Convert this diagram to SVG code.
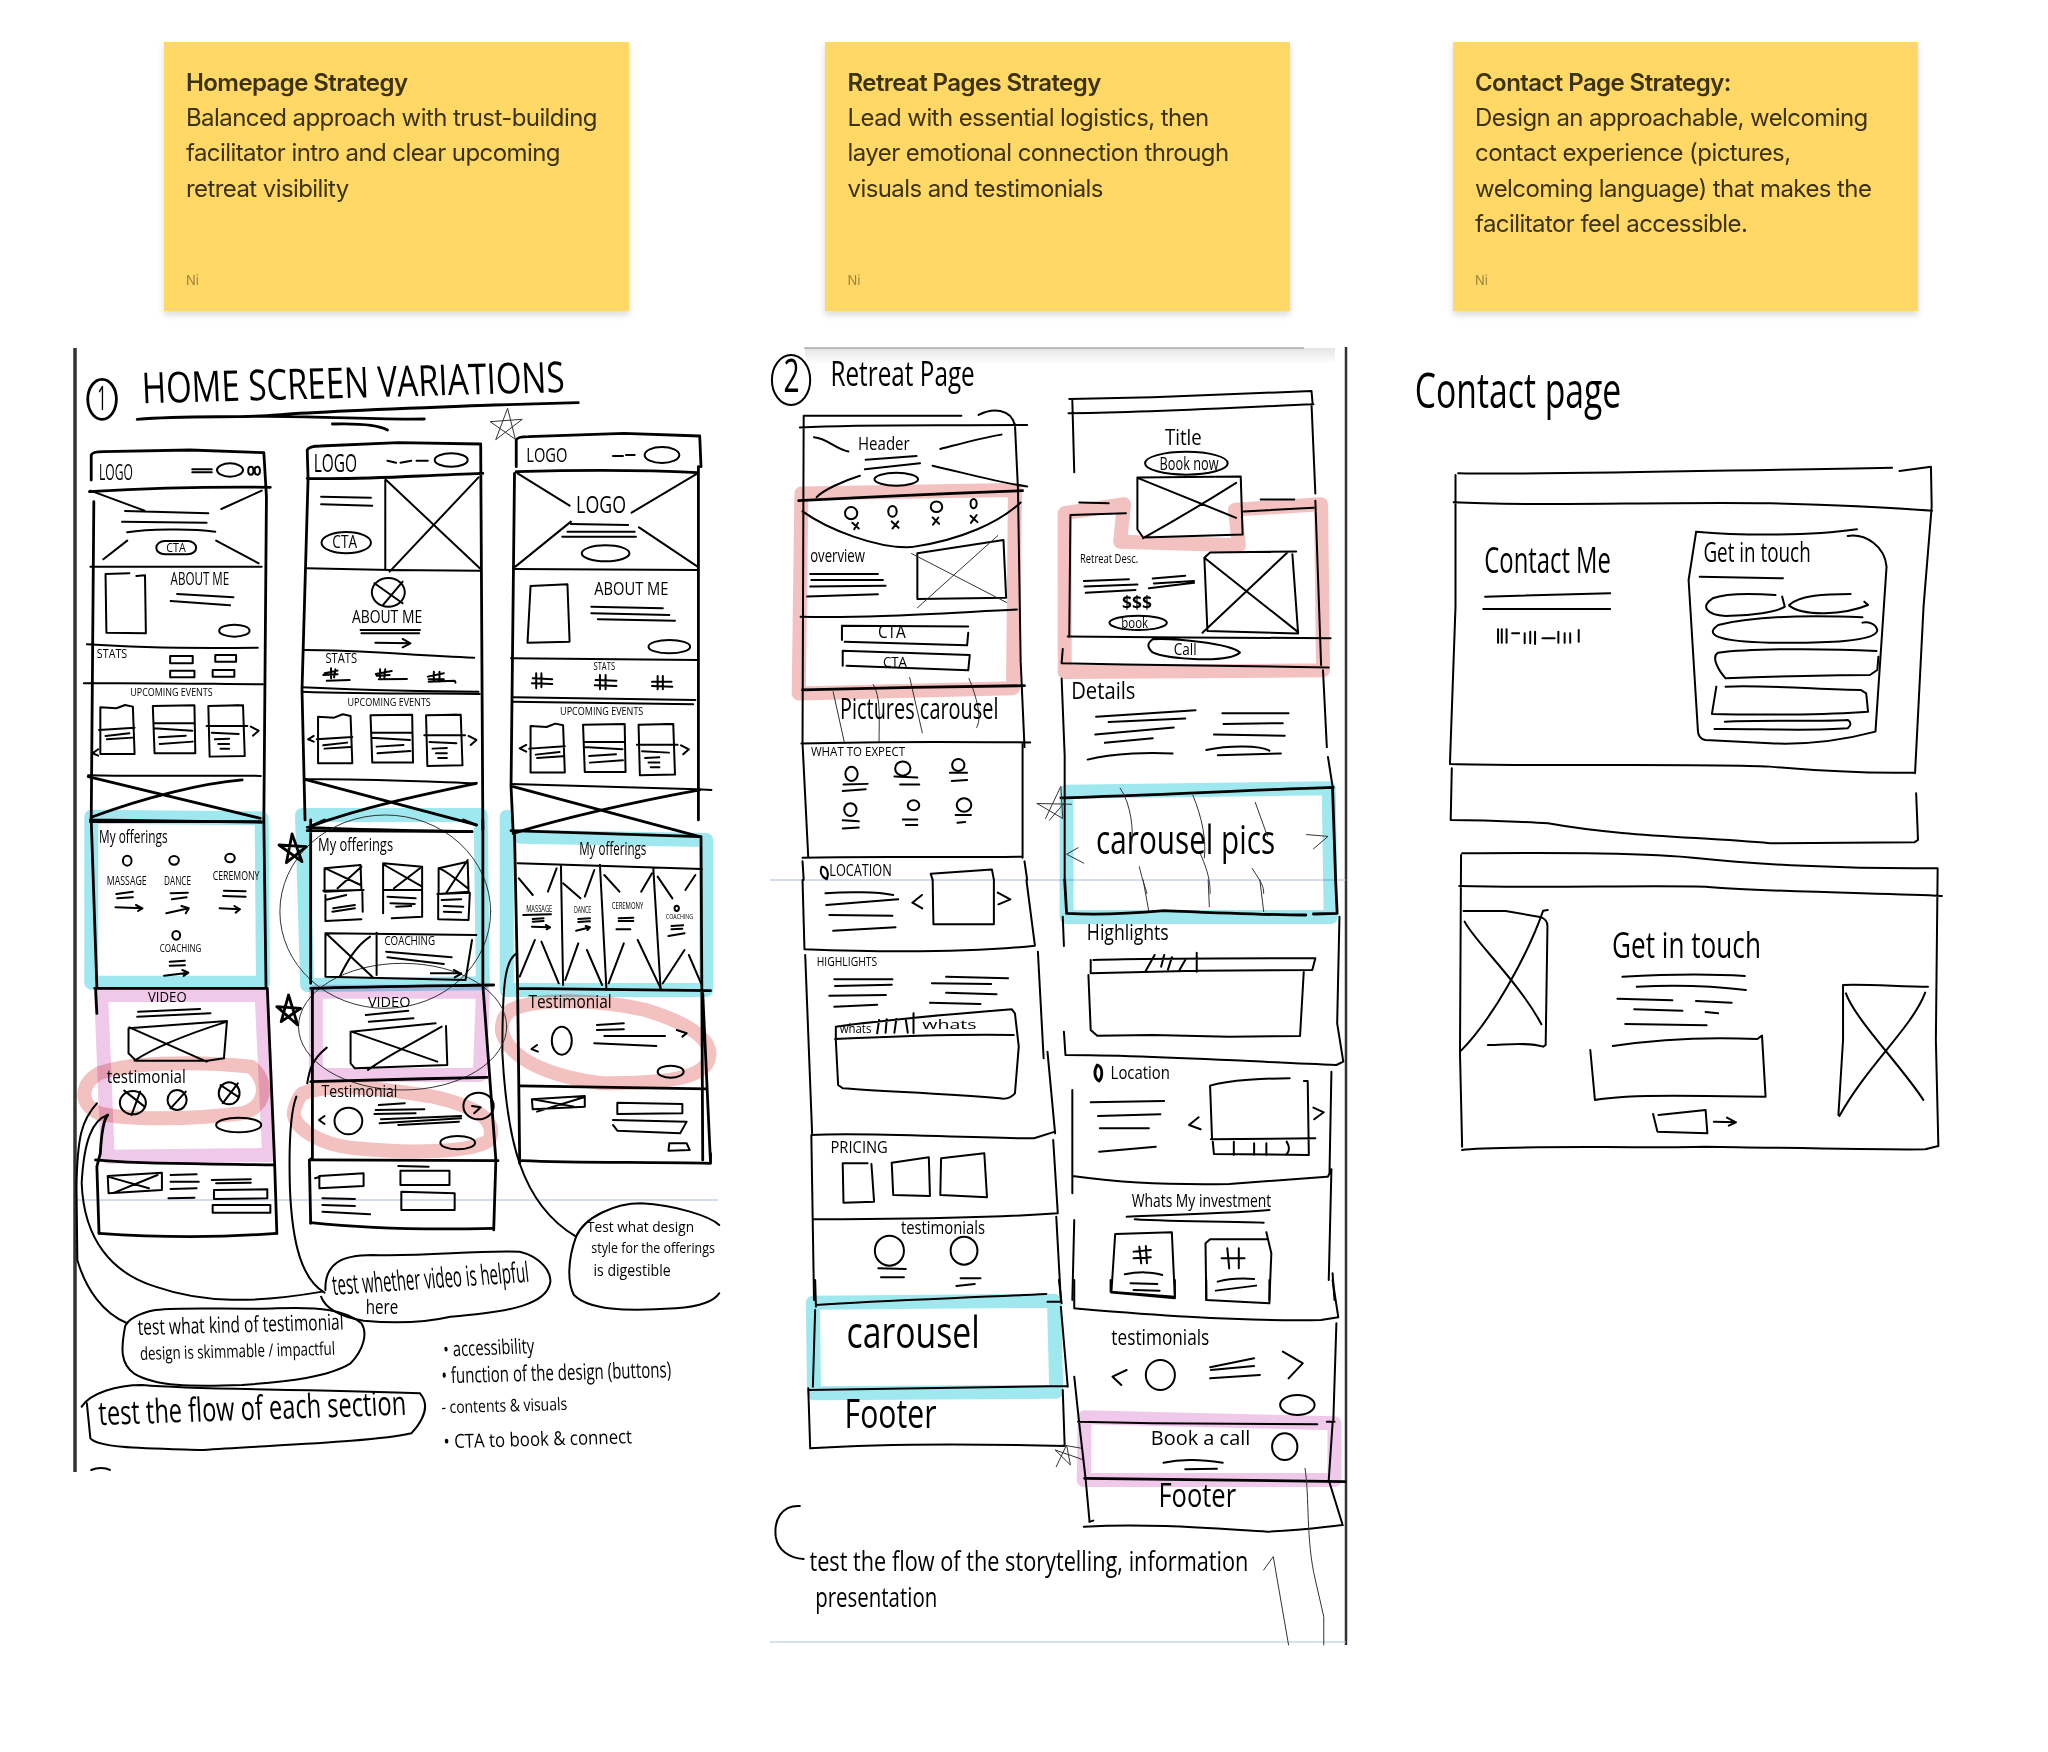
<svg xmlns="http://www.w3.org/2000/svg" xmlns:xlink="http://www.w3.org/1999/xlink" width="2048" height="1752" viewBox="0 0 2048 1752">
<style>
path,ellipse,rect{vector-effect:non-scaling-stroke}
.k{fill:none;stroke:#000;stroke-width:2;stroke-linecap:round;stroke-linejoin:round}
.h{fill:none;stroke:#000;stroke-width:2.8;stroke-linecap:round;stroke-linejoin:round}
.t{fill:none;stroke:#333;stroke-width:1;stroke-linecap:round;stroke-linejoin:round}
.hl{fill:none;stroke-width:14;stroke-linejoin:round;stroke-linecap:round;mix-blend-mode:multiply}
.c{stroke:#9fe8f0}.p{stroke:#f0c9ea}.s{stroke:#f3c1c0}
.note{fill:#ffd866;filter:url(#sh)}
.nt{font-family:Inter,"Liberation Sans",sans-serif;font-size:24px;letter-spacing:-.58px;fill:#3b3210}
.nb{font-weight:600}
.ni{font-size:13px;letter-spacing:0;fill:#3b3210;opacity:.5}
.w{font-family:"Open Sans","Noto Sans",sans-serif;fill:#000}
</style>
<defs>
<filter id="sh" x="-5%" y="-5%" width="110%" height="115%"><feDropShadow dx="0" dy="4" stdDeviation="3" flood-color="#000" flood-opacity=".14"/></filter>
<linearGradient id="fade" x1="0" y1="0" x2="0" y2="1"><stop offset="0" stop-color="#e4e4e4"/><stop offset="1" stop-color="#fff"/></linearGradient>
<g id="ev">
<path class="k" d="M93,1102L93,1242L172,1242L168,1100L150,1095L130,1105ZM90,1170L172,1163M105,1188L160,1180M108,1198L168,1193"/>
<path class="k" d="M214,1098L310,1096L312,1240L218,1240ZM216,1150L310,1150M216,1165L305,1172M228,1192L290,1187M230,1212L306,1205"/>
<path class="k" d="M342,1098L412,1096M422,1096L426,1248L345,1250L342,1098ZM338,1158L432,1158M350,1178L412,1182M357,1198L390,1196M365,1212L390,1212M370,1226L390,1226M440,1160L458,1172L445,1187"/>
</g>
</defs>
<rect width="2048" height="1752" fill="#fff"/>

<g id="card-homepage">
<rect class="note" x="164" y="42" width="465" height="269"/>
<text class="nt nb" x="186" y="91">Homepage Strategy</text>
<text class="nt" x="186" y="126">Balanced approach with trust-building</text>
<text class="nt" x="186" y="161">facilitator intro and clear upcoming</text>
<text class="nt" x="186" y="197">retreat visibility</text>
<text class="nt ni" x="186" y="285">Ni</text>
</g>
<g id="card-retreat">
<rect class="note" x="825" y="42" width="465" height="269"/>
<text class="nt nb" x="847.5" y="91">Retreat Pages Strategy</text>
<text class="nt" x="847.5" y="126">Lead with essential logistics, then</text>
<text class="nt" x="847.5" y="161">layer emotional connection through</text>
<text class="nt" x="847.5" y="197">visuals and testimonials</text>
<text class="nt ni" x="847.5" y="285">Ni</text>
</g>
<g id="card-contact">
<rect class="note" x="1453" y="42" width="465" height="269"/>
<text class="nt nb" x="1475" y="91">Contact Page Strategy:</text>
<text class="nt" x="1475" y="126">Design an approachable, welcoming</text>
<text class="nt" x="1475" y="161">contact experience (pictures,</text>
<text class="nt" x="1475" y="197">welcoming language) that makes the</text>
<text class="nt" x="1475" y="232">facilitator feel accessible.</text>
<text class="nt ni" x="1475" y="285">Ni</text>
</g>

<g id="frame-lines">
<path d="M75,348V1472" stroke="#333" stroke-width="3.5" fill="none"/>
<path d="M1346,347V1645" stroke="#333" stroke-width="2.5" fill="none"/>
<rect x="805" y="348" width="530" height="16" fill="url(#fade)"/>
<path d="M804,348H1304" stroke="#888" stroke-width="1.2" fill="none"/>
<path d="M77,1200H718M770,880H1346" stroke="#a9bdd8" stroke-width="1.2" fill="none"/>
<path d="M770,1642H1346" stroke="#b7c4d6" stroke-width="1.2" fill="none"/>
</g>

<g id="home-upper" transform="translate(60,340) scale(.4337,.3333)">
<ellipse class="h" cx="97" cy="178" rx="33" ry="60"/>
<text class="w" x="86" y="210" font-size="96" textLength="22" lengthAdjust="spacingAndGlyphs">1</text>
<text class="w" x="190" y="190" font-size="128" textLength="975" lengthAdjust="spacingAndGlyphs" transform="rotate(-2 190 190)">HOME SCREEN VARIATIONS</text>
<path class="h" d="M178,238C300,225 420,235 500,225S800,205 1000,195L1195,188M425,230C550,225 700,240 840,237M628,252C680,250 730,252 755,270"/>
<path class="t" d="M1005,298L1032,205L1050,298L992,245L1065,238Z"/>

<path class="h" d="M72,420L72,345Q75,335 100,335L300,330L470,338L476,470L470,1440M78,485L72,1440M68,455C200,445 350,440 485,442"/>
<text class="w" x="90" y="420" font-size="66" textLength="78" lengthAdjust="spacingAndGlyphs">LOGO</text>
<path class="k" d="M305,388L350,388M305,397L350,397"/>
<ellipse class="k" cx="392" cy="390" rx="30" ry="20"/><ellipse class="k" cx="440" cy="392" rx="6" ry="12"/><ellipse class="k" cx="455" cy="392" rx="6" ry="12"/>
<path class="k" d="M70,452L195,512M465,452L372,507M155,602L100,658M360,602L458,670M150,513L342,520M143,545L338,548M155,577C200,568 300,565 358,575"/>
<rect class="k" x="222" y="603" width="92" height="40" rx="20"/>
<text class="w" x="245" y="635" font-size="38" textLength="45" lengthAdjust="spacingAndGlyphs">CTA</text>
<path class="k" d="M70,680L465,680M160,700L105,702L107,878L198,880L196,706L176,708M270,762L400,772M255,783L392,796"/>
<text class="w" x="255" y="735" font-size="54" textLength="135" lengthAdjust="spacingAndGlyphs">ABOUT ME</text>
<ellipse class="k" cx="402" cy="872" rx="35" ry="18"/>
<path class="k" d="M62,913C200,925 350,925 456,923M55,1030C200,1028 350,1032 468,1033"/>
<text class="w" x="85" y="955" font-size="38" textLength="70" lengthAdjust="spacingAndGlyphs">STATS</text>
<path class="k" d="M254,948H306V970H254ZM358,945H406V965H358ZM254,992H310V1012H254ZM352,990H402V1010H352Z"/>
<text class="w" x="162" y="1068" font-size="34" textLength="190" lengthAdjust="spacingAndGlyphs">UPCOMING EVENTS</text>
<use xlink:href="#ev" href="#ev"/>
<path class="k" d="M88,1228L75,1240L88,1247M65,1306C200,1310 350,1305 463,1308"/>
<path class="h" d="M65,1310L462,1435M72,1432C200,1370 330,1330 420,1320M70,1440L465,1447"/>

<path class="h" d="M572,415L570,330Q575,318 600,318L780,308L970,312L975,1470M572,415L558,1050L565,1440M570,415C700,420 800,408 975,400"/>
<text class="w" x="585" y="395" font-size="76" textLength="100" lengthAdjust="spacingAndGlyphs">LOGO</text>
<path class="k" d="M755,362L775,368M785,368L810,362M822,362L848,362"/>
<ellipse class="k" cx="902" cy="360" rx="38" ry="20"/>
<path class="k" d="M750,420L750,690M752,420L968,685M965,412L760,695M602,470L717,473M602,493L720,497M568,685L760,690L970,692"/>
<ellipse class="k" cx="660" cy="608" rx="57" ry="32"/>
<text class="w" x="628" y="625" font-size="52" textLength="57" lengthAdjust="spacingAndGlyphs">CTA</text>
<ellipse class="k" cx="757" cy="757" rx="38" ry="43"/>
<path class="k" d="M725,730L790,790M790,725L745,795"/>
<text class="w" x="673" y="850" font-size="56" textLength="162" lengthAdjust="spacingAndGlyphs">ABOUT ME</text>
<path class="k" d="M693,870L830,870M695,880L828,880M727,908L808,910M790,897L808,910L790,922M560,930C700,930 800,945 955,953"/>
<text class="w" x="612" y="970" font-size="44" textLength="73" lengthAdjust="spacingAndGlyphs">STATS</text>
<path class="k" d="M610,1000L640,992M607,1005L640,1003M625,985L625,1015M635,988L632,1012M615,1022L668,1020M728,1002L765,993M730,1007L760,1005M738,988L738,1012M750,988L748,1012M735,1018L800,1017M848,1010L885,1000M850,1018L885,1018M862,995L862,1025M875,995L875,1025M850,1025L910,1022L912,1028"/>
<path class="k" d="M558,1042C700,1050 850,1055 965,1055M558,1055C700,1062 850,1060 968,1062"/>
<text class="w" x="663" y="1097" font-size="34" textLength="192" lengthAdjust="spacingAndGlyphs">UPCOMING EVENTS</text>
<use xlink:href="#ev" href="#ev" transform="translate(502,28)"/>
<path class="k" d="M585,1188L572,1198L585,1205M565,1318C700,1315 850,1325 960,1330"/>
<path class="h" d="M565,1318L960,1455M580,1458C700,1400 850,1360 960,1330M570,1462C700,1470 850,1472 950,1475"/>

<path class="h" d="M1052,380L1052,300Q1055,290 1080,290L1300,280L1475,288L1478,380M1048,400L1040,1340L1045,1480M1472,380L1472,1440M1052,395C1200,390 1350,390 1470,398"/>
<text class="w" x="1075" y="365" font-size="60" textLength="95" lengthAdjust="spacingAndGlyphs">LOGO</text>
<path class="k" d="M1275,348L1298,348M1305,345L1325,345"/>
<ellipse class="k" cx="1388" cy="345" rx="40" ry="24"/>
<text class="w" x="1190" y="518" font-size="70" textLength="115" lengthAdjust="spacingAndGlyphs">LOGO</text>
<path class="k" d="M1055,400L1175,497M1470,400L1318,518M1178,545L1050,680M1335,562L1470,680M1178,552L1310,555M1170,575L1325,575M1158,590L1328,590"/>
<ellipse class="k" cx="1258" cy="640" rx="55" ry="24"/>
<path class="k" d="M1045,687L1472,690M1085,738L1170,733L1175,905L1078,908ZM1225,800L1390,805M1225,820L1405,825M1240,838L1418,842M1040,955L1470,960"/>
<text class="w" x="1232" y="765" font-size="56" textLength="171" lengthAdjust="spacingAndGlyphs">ABOUT ME</text>
<ellipse class="k" cx="1405" cy="920" rx="48" ry="20"/>
<text class="w" x="1230" y="990" font-size="30" textLength="50" lengthAdjust="spacingAndGlyphs">STATS</text>
<path class="k" d="M1098,1000L1098,1045M1110,1000L1110,1042M1090,1015L1135,1018M1088,1030L1135,1032M1245,1005L1245,1048M1258,1005L1258,1048M1235,1020L1283,1022M1233,1036L1283,1038M1378,1008L1378,1048M1390,1008L1390,1048M1365,1025L1410,1025M1365,1038L1412,1040M1045,1072L1465,1080M1045,1085L1460,1093"/>
<text class="w" x="1153" y="1125" font-size="34" textLength="192" lengthAdjust="spacingAndGlyphs">UPCOMING EVENTS</text>
<use xlink:href="#ev" href="#ev" transform="translate(992,56)"/>
<path class="k" d="M1075,1215L1060,1225L1075,1235M1040,1332L1470,1348L1502,1350"/>
<path class="h" d="M1045,1340L1475,1490M1045,1480C1200,1420 1350,1380 1475,1350"/>
</g>

<g id="home-lower" transform="translate(60,820) scale(.4337,.3333)">
<path class="hl c" d="M72,-10L72,488L468,488L465,-5ZM558,-15L570,495L975,490L970,-15ZM1030,-10L1030,510L1490,510L1490,60L1060,50"/>
<path class="hl p" d="M95,525L465,525L482,1005L110,1010ZM590,515L975,515L968,765L590,765Z"/>
<path class="hl s" d="M90,760C150,730 300,720 440,740C480,780 480,860 420,880C300,900 150,900 90,880C40,850 50,790 90,760Z"/>
<path class="hl s" d="M560,820C620,790 720,800 860,830C960,860 1010,900 990,960C950,1000 800,1000 680,985C600,975 530,920 540,870C545,850 550,830 560,820Z"/>
<path class="hl s" d="M1040,570C1100,530 1250,540 1350,570C1450,610 1510,660 1495,720C1480,780 1380,790 1250,790C1130,770 1040,720 1020,640C1015,610 1025,585 1040,570Z"/>

<g id="connectors">
<path class="k" d="M110,885C75,900 55,960 50,1090C55,1260 120,1360 220,1400C330,1450 450,1450 605,1415"/>
<path class="k" d="M85,850C50,900 40,950 38,1100L40,1320C60,1410 100,1480 155,1510"/>
<path class="k" d="M615,683C580,720 575,750 570,790M545,830C530,880 528,1000 530,1100C535,1280 560,1380 610,1418"/>
<path class="k" d="M1053,400C1025,420 1020,500 1020,700C1030,950 1060,1150 1190,1250"/>
</g>

<ellipse class="t" cx="750" cy="275" rx="243" ry="290"/>
<ellipse class="t" cx="790" cy="620" rx="240" ry="190"/>
<path class="h" d="M535,42L558,125L505,75L568,80L522,128Z"/>
<path class="h" d="M527,525L548,615L500,560L555,565L510,605Z"/>

<path class="h" d="M72,0L85,500M470,0L475,500M70,5L463,5M80,505L478,505M82,505L85,580M110,885C100,900 95,950 93,1000L85,1040L90,1240M478,505L495,1035L500,1240"/>
<text class="w" x="90" y="70" font-size="56" textLength="158" lengthAdjust="spacingAndGlyphs">My offerings</text>
<ellipse class="k" cx="155" cy="122" rx="10" ry="15"/><ellipse class="k" cx="263" cy="121" rx="11" ry="13"/><ellipse class="k" cx="392" cy="114" rx="11" ry="13"/>
<text class="w" x="108" y="195" font-size="38" textLength="92" lengthAdjust="spacingAndGlyphs">MASSAGE</text>
<text class="w" x="240" y="195" font-size="38" textLength="62" lengthAdjust="spacingAndGlyphs">DANCE</text>
<text class="w" x="352" y="180" font-size="38" textLength="108" lengthAdjust="spacingAndGlyphs">CEREMONY</text>
<path class="k" d="M130,222L168,215M132,235L168,232M128,262L190,265M175,255L190,265L180,273M255,220L295,218M258,238L292,232M245,280L297,265M280,258L297,265L290,280M378,212L428,214M376,228L428,230M368,265L415,268M402,258L415,268L405,278"/>
<ellipse class="k" cx="268" cy="346" rx="9" ry="13"/>
<text class="w" x="230" y="395" font-size="34" textLength="96" lengthAdjust="spacingAndGlyphs">COACHING</text>
<path class="k" d="M253,425L288,422M253,437L288,436M240,467L296,458M282,450L296,458L285,468"/>
<text class="w" x="203" y="545" font-size="42" textLength="89" lengthAdjust="spacingAndGlyphs">VIDEO</text>
<path class="k" d="M180,575L323,567M178,590L347,580M158,625L385,603L378,715L340,722L175,722L158,700ZM160,622L338,725M385,605C300,640 220,680 172,722"/>
<text class="w" x="108" y="790" font-size="56" textLength="182" lengthAdjust="spacingAndGlyphs">testimonial</text>
<ellipse class="k" cx="168" cy="848" rx="30" ry="35"/><ellipse class="k" cx="270" cy="840" rx="22" ry="30"/><ellipse class="k" cx="390" cy="820" rx="24" ry="33"/>
<path class="k" d="M148,812L195,860M185,815L165,885M290,815L255,865M410,790L375,850M370,795L410,830"/>
<ellipse class="k" cx="412" cy="915" rx="52" ry="22"/>
<path class="h" d="M82,1020C200,1035 350,1030 495,1035M90,1240C200,1250 350,1255 500,1240"/>
<path class="k" d="M110,1068L235,1058L235,1110L112,1120ZM110,1070L205,1105M225,1065L125,1118M255,1065L315,1063M255,1085L320,1085M255,1107L315,1105M250,1135L310,1133M350,1080L440,1078M360,1090L440,1088M355,1110L478,1108L478,1135L355,1137ZM352,1155L485,1155L485,1178L352,1178Z"/>

<path class="h" d="M578,0L578,490M975,0L975,495M570,32L950,35M575,20L610,0M930,0L960,15M578,505C700,500 850,498 1000,495M582,505L582,1015L575,1020L578,1210M975,495L1005,1020L1000,1230"/>
<text class="w" x="595" y="92" font-size="56" textLength="173" lengthAdjust="spacingAndGlyphs">My offerings</text>
<path class="k" d="M610,145L693,135L695,210L610,215ZM612,145L693,195M695,140L640,205M607,212L700,210M697,210L698,275M612,225L612,303L695,298M612,240L660,225M630,265L680,255M628,275L680,265"/>
<path class="k" d="M745,130L835,140L835,210L745,210ZM748,135L835,200M830,145L770,205M745,212L745,280M835,212L835,290L765,295M755,230L820,235M762,250L818,252M775,260L810,258"/>
<path class="k" d="M873,145L940,125L942,215L873,222ZM875,145C900,160 925,190 940,205M940,120L890,220M870,222L945,218M872,222L872,298L942,300L945,218M880,240L925,238M885,258L930,260M885,275L925,277"/>
<path class="k" d="M612,340L960,345M612,340L612,470L935,480L950,360M730,338L730,465M615,342L720,470M715,350C680,380 660,430 645,470M752,395L903,412M755,412L885,432M855,460L925,460M908,450L925,462L910,472"/>
<text class="w" x="748" y="375" font-size="40" textLength="117" lengthAdjust="spacingAndGlyphs">COACHING</text>
<text class="w" x="710" y="560" font-size="46" textLength="98" lengthAdjust="spacingAndGlyphs">VIDEO</text>
<path class="k" d="M705,585L803,572M712,605L815,595M670,635L866,610M890,618L893,735L680,745L670,730L670,635M672,635L870,725M880,620C800,680 750,710 710,750"/>
<path class="h" d="M578,785C700,782 850,775 985,772"/>
<text class="w" x="603" y="830" font-size="50" textLength="175" lengthAdjust="spacingAndGlyphs">Testimonial</text>
<ellipse class="k" cx="665" cy="903" rx="32" ry="40"/>
<path class="k" d="M610,888L597,900L610,912M735,855L795,850M728,870L840,868M725,882L820,880M740,898L925,888M737,910L925,895M780,915L920,905"/>
<ellipse class="k" cx="965" cy="858" rx="35" ry="40"/>
<path class="k" d="M950,858L970,862L955,880"/>
<ellipse class="k" cx="917" cy="968" rx="40" ry="20"/>
<path class="h" d="M578,1020L1010,1022M578,1208C700,1225 850,1230 1000,1225"/>
<path class="k" d="M598,1068L700,1060L700,1098L598,1105ZM588,1075L600,1070M785,1052L898,1052L898,1095L785,1095ZM780,1038L850,1040M787,1115L910,1120L910,1170L787,1170ZM605,1135L680,1137M605,1155L680,1158M605,1175L715,1183"/>

<path class="h" d="M1048,40L1055,490L1060,1030M1478,50L1482,1020M1040,32L1475,50M1055,505L1500,512M1482,520L1500,1030L1500,1000M1065,1022C1200,1030 1350,1025 1500,1030"/>
<text class="w" x="1197" y="105" font-size="56" textLength="155" lengthAdjust="spacingAndGlyphs">My offerings</text>
<path class="k" d="M1055,130L1480,147M1155,135L1160,495M1245,135L1260,510M1368,145L1385,510"/>
<path class="k" d="M1058,175L1090,225M1145,145L1125,215M1060,470L1095,360M1110,365L1150,490M1160,190L1200,235M1232,150L1210,230M1165,480L1195,370M1215,390L1250,495M1255,165L1290,215M1365,160L1340,215M1265,490L1300,370M1332,360L1385,505M1378,170L1412,235M1465,165L1442,210M1390,490L1440,390M1450,405L1478,490"/>
<text class="w" x="1075" y="277" font-size="26" textLength="60" lengthAdjust="spacingAndGlyphs">MASSAGE</text>
<text class="w" x="1185" y="278" font-size="26" textLength="40" lengthAdjust="spacingAndGlyphs">DANCE</text>
<text class="w" x="1272" y="267" font-size="26" textLength="73" lengthAdjust="spacingAndGlyphs">CEREMONY</text>
<text class="w" x="1397" y="298" font-size="24" textLength="63" lengthAdjust="spacingAndGlyphs">COACHING</text>
<path class="k" d="M1068,285L1132,283M1090,297L1115,295M1090,305L1115,303M1088,320L1130,322M1120,315L1130,322L1122,328M1195,297L1222,295M1195,306L1222,304M1190,332L1222,322M1212,318L1222,322L1216,330M1288,295L1322,293M1288,303L1322,303M1283,328L1315,328M1410,318L1437,316M1410,328L1435,326M1403,348L1440,340"/>
<ellipse class="k" cx="1422" cy="265" rx="5" ry="8"/>
<text class="w" x="1080" y="565" font-size="56" textLength="192" lengthAdjust="spacingAndGlyphs">Testimonial</text>
<ellipse class="k" cx="1157" cy="662" rx="23" ry="42"/>
<path class="k" d="M1100,675L1087,687L1102,695M1238,615L1300,610M1238,630L1300,628M1255,648L1395,648M1232,670L1375,678M1422,630L1445,640L1435,650"/>
<ellipse class="k" cx="1408" cy="755" rx="30" ry="18"/>
<path class="h" d="M1060,798L1490,807"/>
<path class="k" d="M1088,838L1210,828L1210,860L1090,868ZM1090,838L1185,860M1208,832L1100,875M1285,848L1435,852L1435,880L1285,882ZM1275,900L1445,905L1430,940L1285,932L1275,915M1405,970L1445,970L1452,990L1403,992Z"/>
</g>

<g id="home-notes" transform="translate(60,1200) scale(.4337,.3333)">
<g id="note-video">
<path class="k" d="M612,270C610,190 650,165 720,165C850,170 950,150 1060,155C1110,170 1135,220 1130,250C1120,310 1050,335 900,350C850,365 780,372 700,362C640,350 610,320 602,290"/>
<text class="w" x="630" y="285" font-size="84" textLength="455" lengthAdjust="spacingAndGlyphs" transform="rotate(-5 630 285)">test whether video is helpful</text>
<text class="w" x="705" y="343" font-size="60" textLength="75" lengthAdjust="spacingAndGlyphs">here</text>
</g>
<g id="note-design">
<path class="k" d="M1190,110C1170,180 1170,250 1185,285C1220,330 1300,335 1420,325C1480,320 1510,300 1520,280M1190,110C1210,50 1280,10 1340,10C1420,15 1500,50 1520,75"/>
<text class="w" x="1215" y="96" font-size="46" textLength="247" lengthAdjust="spacingAndGlyphs">Test what design</text>
<text class="w" x="1225" y="160" font-size="46" textLength="285" lengthAdjust="spacingAndGlyphs">style for the offerings</text>
<text class="w" x="1230" y="228" font-size="50" textLength="178" lengthAdjust="spacingAndGlyphs">is digestible</text>
</g>
<g id="note-testimonial">
<path class="k" d="M150,380C140,450 140,490 170,520C220,560 300,560 420,555C530,545 620,530 670,490C700,450 710,400 695,370C660,330 600,320 500,325C400,330 300,320 220,330C180,340 155,360 150,380Z"/>
<text class="w" x="180" y="405" font-size="66" textLength="475" lengthAdjust="spacingAndGlyphs" transform="rotate(-2 180 405)">test what kind of testimonial</text>
<text class="w" x="185" y="480" font-size="54" textLength="450" lengthAdjust="spacingAndGlyphs" transform="rotate(-2 185 480)">design is skimmable / impactful</text>
</g>
<g id="note-flow">
<path class="k" d="M50,620C70,580 130,555 190,555C320,570 500,565 830,580C850,610 845,650 810,700C730,725 500,735 330,750C200,745 90,745 70,715L62,610"/>
<text class="w" x="90" y="675" font-size="100" textLength="710" lengthAdjust="spacingAndGlyphs" transform="rotate(-2.5 90 675)">test the flow of each section</text>
</g>
<g id="test-list">
<text class="w" x="885" y="470" font-size="62" textLength="210" lengthAdjust="spacingAndGlyphs" transform="rotate(-3 885 470)">• accessibility</text>
<text class="w" x="880" y="550" font-size="66" textLength="530" lengthAdjust="spacingAndGlyphs" transform="rotate(-2 880 550)">• function of the design (buttons)</text>
<text class="w" x="880" y="640" font-size="52" textLength="290" lengthAdjust="spacingAndGlyphs" transform="rotate(-2 880 640)">- contents &amp; visuals</text>
<text class="w" x="885" y="745" font-size="58" textLength="435" lengthAdjust="spacingAndGlyphs" transform="rotate(-2 885 745)">• CTA to book &amp; connect</text>
</g>
<path class="k" d="M72,810C85,802 105,802 115,810"/>
</g>

<g id="retreat-upper" transform="translate(770,340) scale(.3827,.3571)">
<path class="hl s" d="M82,430L640,420L635,975L75,990Z"/>
<path class="hl s" d="M925,460L770,485L770,930L1445,925L1440,460L1215,475L1225,575L915,565Z"/>
<path class="hl c" d="M775,1265L1460,1255L1465,1616L775,1616Z"/>
<ellipse class="k" cx="55" cy="112" rx="50" ry="70"/>
<text class="w" x="35" y="145" font-size="130" textLength="42" lengthAdjust="spacingAndGlyphs">2</text>
<text class="w" x="158" y="130" font-size="96" textLength="377" lengthAdjust="spacingAndGlyphs">Retreat Page</text>

<path class="k" d="M88,212L500,212M545,210C580,190 630,190 640,240M88,212L85,1130M640,235L648,420L655,900L665,1140M78,245C250,235 450,240 672,238M115,272C150,275 170,305 205,312M445,305C500,290 550,275 605,265M250,335L383,325M248,362L392,345M425,352C500,370 600,400 672,410M235,380C190,395 140,420 122,440"/>
<text class="w" x="230" y="308" font-size="50" textLength="135" lengthAdjust="spacingAndGlyphs">Header</text>
<ellipse class="k" cx="330" cy="390" rx="57" ry="18"/>
<path class="h" d="M75,450C250,440 450,430 660,422"/>
<path class="k" d="M85,480C150,530 280,585 370,580C500,560 600,510 655,455"/>
<ellipse class="k" cx="212" cy="485" rx="16" ry="17"/><ellipse class="k" cx="320" cy="480" rx="11" ry="15"/><ellipse class="k" cx="435" cy="467" rx="15" ry="15"/><ellipse class="k" cx="532" cy="458" rx="8" ry="13"/>
<path class="k" d="M215,512L232,528M230,512L220,530M318,508L336,526M335,508L320,528M425,497L442,515M440,497L426,517M524,492L542,510M540,490L525,512"/>
<text class="w" x="105" y="622" font-size="50" textLength="143" lengthAdjust="spacingAndGlyphs">overview</text>
<path class="k" d="M105,655L282,655M108,672L295,672M105,690L302,688M97,718L282,712M385,597L610,560L617,722L385,725Z"/>
<path class="t" d="M370,598L618,735M595,548L385,750M165,985L195,1130M270,965C290,1000 285,1060 285,1125M365,945L398,1100M520,948C540,1000 555,1060 540,1085"/>
<path class="k" d="M80,775C250,780 450,765 645,755M188,840L188,800L518,802M518,820L515,855L195,845M190,912L190,870L522,882L518,925L200,912"/>
<text class="w" x="282" y="835" font-size="50" textLength="73" lengthAdjust="spacingAndGlyphs">CTA</text>
<text class="w" x="295" y="915" font-size="42" textLength="63" lengthAdjust="spacingAndGlyphs">CTA</text>
<path class="h" d="M85,980C250,975 500,970 665,968"/>
<text class="w" x="183" y="1060" font-size="80" textLength="414" lengthAdjust="spacingAndGlyphs">Pictures carousel</text>
<path class="k" d="M82,1130C250,1125 500,1125 680,1127M85,1130L100,1450M660,1130L660,1450M665,1460L672,1512M85,1450C250,1445 450,1450 660,1447"/>
<text class="w" x="107" y="1165" font-size="36" textLength="246" lengthAdjust="spacingAndGlyphs">WHAT TO EXPECT</text>
<ellipse class="k" cx="213" cy="1215" rx="16" ry="20"/><ellipse class="k" cx="347" cy="1200" rx="20" ry="20"/><ellipse class="k" cx="492" cy="1190" rx="16" ry="17"/><ellipse class="k" cx="210" cy="1315" rx="16" ry="18"/><ellipse class="k" cx="375" cy="1303" rx="15" ry="14"/><ellipse class="k" cx="507" cy="1302" rx="19" ry="19"/>
<path class="k" d="M192,1245L255,1243M190,1263L250,1258M325,1222L385,1225M340,1245L390,1245M470,1212L515,1212M475,1235L515,1232M190,1345L232,1348M190,1368L232,1365M347,1343L385,1343M355,1358L385,1358M485,1330L525,1330M490,1352L510,1350"/>
<path class="k" d="M85,1460L88,1512M135,1475C128,1495 138,1505 148,1510C155,1495 150,1475 135,1475ZM420,1495L580,1483L585,1512M420,1495L425,1512"/>
<text class="w" x="155" y="1500" font-size="44" textLength="163" lengthAdjust="spacingAndGlyphs">LOCATION</text>

<path class="k" d="M782,165L1000,160L1415,143L1418,180M790,170L795,370M780,205C950,205 1200,190 1420,180M1415,180L1425,430"/>
<text class="w" x="1032" y="295" font-size="60" textLength="96" lengthAdjust="spacingAndGlyphs">Title</text>
<ellipse class="k" cx="1088" cy="345" rx="108" ry="32"/>
<text class="w" x="1018" y="365" font-size="50" textLength="154" lengthAdjust="spacingAndGlyphs">Book now</text>
<path class="k" d="M960,385L1230,382L1235,545L975,553L960,530ZM965,388L1218,498M1218,400C1100,480 1050,510 975,555M808,455L885,457M1282,447L1370,447M1238,480L1420,470M785,490L930,485M785,490L782,830M1425,450L1440,910"/>
<text class="w" x="810" y="625" font-size="34" textLength="152" lengthAdjust="spacingAndGlyphs">Retreat Desc.</text>
<path class="k" d="M1135,610L1150,595L1375,592M1135,610L1143,815L1380,822L1365,600M1135,610L1380,818M1352,595L1130,820M820,675L938,670M822,690L960,685M825,708L955,700M1000,668L1085,660M990,695L1108,680M1003,682L1108,675"/>
<text class="w" x="920" y="752" font-size="48" font-weight="700" textLength="78" lengthAdjust="spacingAndGlyphs">$$$</text>
<ellipse class="k" cx="962" cy="792" rx="75" ry="20"/>
<text class="w" x="918" y="807" font-size="40" textLength="70" lengthAdjust="spacingAndGlyphs">book</text>
<path class="k" d="M778,830C1000,832 1250,835 1465,835M1000,838C1060,835 1200,850 1228,875C1200,905 1040,895 1000,875C985,860 985,850 1000,838ZM765,865L762,905C1000,910 1250,915 1460,917M762,948L770,1165L770,1512M1445,925L1455,1140M1458,1168L1470,1250"/>
<text class="w" x="1055" y="882" font-size="44" textLength="60" lengthAdjust="spacingAndGlyphs">Call</text>
<text class="w" x="787" y="1005" font-size="66" textLength="168" lengthAdjust="spacingAndGlyphs">Details</text>
<path class="k" d="M852,1055L1112,1037M885,1070L1085,1060M850,1105L1055,1085M875,1128L1000,1115M830,1175C900,1155 1000,1155 1052,1158M1182,1045L1355,1045M1185,1075L1340,1073M1160,1105L1345,1108M1140,1148C1200,1135 1280,1135 1305,1150M1170,1163L1335,1158"/>
<path class="h" d="M760,1282C1000,1275 1250,1260 1472,1253M1470,1255L1478,1512"/>
<text class="w" x="852" y="1440" font-size="112" textLength="468" lengthAdjust="spacingAndGlyphs">carousel pics</text>
<path class="t" d="M915,1255C945,1300 950,1380 945,1410M1105,1275C1130,1340 1140,1400 1135,1450M1268,1295L1300,1390M965,1475C975,1520 980,1530 985,1550M1125,1440C1150,1500 1150,1530 1150,1550M1260,1480C1285,1520 1290,1530 1290,1550M805,1422L775,1440L820,1465M1402,1385L1458,1390L1420,1425M698,1298L788,1300M720,1340L760,1250L765,1340L698,1298M730,1345L770,1295"/>
</g>

<g id="retreat-middle" transform="translate(770,880) scale(.3827,.3333)">
<path class="k" d="M425,0L427,133L585,133L585,0M145,40C200,35 280,35 322,45M147,75L335,58M155,105L320,107M165,152L328,142M397,45L372,68L398,85M595,38L628,58L597,73M85,0L90,205M670,0L692,195M90,208C250,215 500,220 692,197M92,225L110,760M700,215L715,535M725,515L745,760"/>
<text class="w" x="122" y="257" font-size="40" textLength="158" lengthAdjust="spacingAndGlyphs">HIGHLIGHTS</text>
<path class="k" d="M168,298L320,298M170,318L318,314M155,347L303,345M168,380L280,374M460,290L622,295M423,310L578,312M460,338L592,343M418,368L550,372M172,440C300,420 500,400 632,388L640,400L650,500L640,640Q625,660 600,655C450,640 300,635 190,625L178,615L172,480ZM170,477C300,470 500,462 637,465M375,400L375,460M285,420L280,460M305,418L302,458M330,418L325,458M355,420L360,458"/>
<text class="w" x="182" y="458" font-size="38" textLength="83" lengthAdjust="spacingAndGlyphs">whats</text>
<text class="w" x="398" y="447" font-size="38" textLength="142" lengthAdjust="spacingAndGlyphs">whats</text>
<path class="k" d="M108,765C250,755 500,775 690,775L745,755M190,850L255,850M265,852L272,965L192,968L190,850M318,848L415,832L418,948L322,945ZM447,835L560,820L567,952L445,945ZM112,1018C300,1015 500,1020 752,1000M108,765L115,1260M740,780L752,1000M748,1010L760,1260"/>
<text class="w" x="158" y="818" font-size="48" textLength="150" lengthAdjust="spacingAndGlyphs">PRICING</text>
<text class="w" x="342" y="1063" font-size="56" textLength="220" lengthAdjust="spacingAndGlyphs">testimonials</text>
<ellipse class="k" cx="312" cy="1112" rx="38" ry="45"/><ellipse class="k" cx="507" cy="1112" rx="35" ry="42"/>
<path class="k" d="M283,1165L355,1167M290,1192L350,1192M498,1195L550,1195M487,1218L535,1212"/>

<path class="t" d="M975,0L990,95M1145,0L1148,80M1280,0L1290,95"/>
<path class="h" d="M775,100C850,105 950,100 1030,92C1200,100 1300,105 1400,105M1420,102L1480,100M770,0L775,100M1478,0L1482,100"/>
<path class="k" d="M765,110L768,198"/>
<text class="w" x="828" y="180" font-size="64" textLength="214" lengthAdjust="spacingAndGlyphs">Highlights</text>
<path class="k" d="M845,240C1000,235 1250,235 1425,235L1417,270L1115,272L838,280L838,240M1115,218L1115,275M1005,225L982,272M1030,225L1022,260M1050,232L1040,268M1085,240L1070,270M832,285L838,450L855,467L1000,465L1200,470L1385,468L1395,270M1488,110L1482,430L1498,545M768,455L772,525M772,525C1000,525 1250,545 1480,555L1498,545"/>
<path class="h" d="M855,555C845,575 848,595 860,603C870,590 870,560 855,555Z"/>
<text class="w" x="890" y="597" font-size="52" textLength="155" lengthAdjust="spacingAndGlyphs">Location</text>
<path class="k" d="M838,667L1030,663M857,708L1020,703M862,745L990,745M860,815L1008,800M1120,712L1095,735L1125,748M1150,620L1155,775M1150,617C1200,600 1300,595 1358,595M1395,603L1405,603L1408,825L1160,822L1157,785M1152,778L1425,775M1212,785L1212,825M1265,790L1265,825M1297,790L1297,825M1350,785C1358,800 1358,815 1350,822M1420,683L1447,697L1422,718M1467,575L1462,880L1458,890M790,630L790,940M790,888C900,905 1000,915 1200,912L1455,890M1467,868L1460,1200"/>
<text class="w" x="945" y="980" font-size="52" textLength="365" lengthAdjust="spacingAndGlyphs">Whats My investment</text>
<path class="k" d="M932,1010C1050,1005 1200,1000 1305,990M953,1018C1050,1025 1200,1025 1290,1028M902,1062L1050,1057L1058,1255L892,1238ZM950,1115L995,1110M950,1135L995,1132M965,1100L970,1150M982,1098L985,1150M927,1183C960,1175 1000,1175 1025,1185M942,1210L1012,1212M950,1230L1018,1232M1138,1090L1150,1078L1300,1078M1297,1057L1310,1120L1305,1260M1138,1090L1140,1260M1180,1135L1240,1135M1195,1105L1200,1165M1225,1105L1225,1165M1170,1205C1200,1195 1240,1195 1265,1197M1165,1232L1270,1217M795,1020L790,1260M1470,1180L1475,1260"/>
</g>

<g id="retreat-lower" transform="translate(770,1280) scale(.3827,.3333)">
<path class="hl c" d="M112,68L742,62L748,335L115,340Z"/>
<path class="hl p" d="M822,412L1475,430L1475,600L820,600Z"/>
<path class="k" d="M118,0L120,80M755,0L762,70M890,0L890,35L1058,50L1058,0M1140,0L1140,60L1305,70L1305,0M795,0L795,85M795,85C950,100 1200,125 1440,120L1485,112M1470,0L1485,112"/>
<path class="k" d="M120,75C300,60 500,55 722,42M725,65L760,65M118,90L112,320M760,80L778,320M100,330C300,328 500,322 778,318M100,325L105,505M765,330L770,498M105,505C300,490 500,490 770,498"/>
<text class="w" x="200" y="205" font-size="130" textLength="348" lengthAdjust="spacingAndGlyphs">carousel</text>
<text class="w" x="195" y="445" font-size="118" textLength="240" lengthAdjust="spacingAndGlyphs">Footer</text>
<path class="t" d="M748,560L775,495L785,555L745,510L820,540M765,495L815,505"/>
<text class="w" x="892" y="195" font-size="64" textLength="256" lengthAdjust="spacingAndGlyphs">testimonials</text>
<ellipse class="k" cx="1020" cy="285" rx="38" ry="45"/>
<path class="k" d="M932,270L895,290L918,315M1150,262L1265,235M1152,270L1265,258M1150,295L1280,285M1340,215C1370,235 1385,245 1392,250L1355,295"/>
<ellipse class="k" cx="1378" cy="375" rx="45" ry="30"/>
<path class="k" d="M1480,130L1472,420M1470,430L1460,600L1495,730M795,290L808,430L825,600L835,725M805,425L1000,430L1430,433M1455,425L1475,425"/>
<text class="w" x="995" y="495" font-size="62" textLength="260" lengthAdjust="spacingAndGlyphs">Book a call</text>
<path class="k" d="M1028,548C1080,535 1130,540 1183,548M1085,568L1168,566"/>
<ellipse class="k" cx="1345" cy="500" rx="33" ry="40"/>
<path class="h" d="M822,595L1503,605"/>
<text class="w" x="1015" y="680" font-size="100" textLength="203" lengthAdjust="spacingAndGlyphs">Footer</text>
<path class="k" d="M820,740C1000,730 1150,745 1300,755C1400,750 1450,740 1497,735M835,725L845,722M78,678C30,675 10,720 15,770C20,810 50,835 88,837"/>
<path class="t" d="M1398,565C1410,650 1400,780 1425,900L1447,1010L1447,1095M1290,870L1315,830L1355,1095"/>
<text class="w" x="103" y="872" font-size="82" textLength="1147" lengthAdjust="spacingAndGlyphs">test the flow of the storytelling, information</text>
<text class="w" x="118" y="982" font-size="82" textLength="319" lengthAdjust="spacingAndGlyphs">presentation</text>
</g>

<g id="contact-1" transform="translate(1400,340) scale(.37,.3333)">
<text class="w" x="40" y="205" font-size="150" textLength="558" lengthAdjust="spacingAndGlyphs">Contact page</text>
<path class="k" d="M157,400C400,405 700,395 1330,383M1350,393L1435,380L1437,500L1415,800L1392,1300M150,405L150,800L135,1270M145,487C350,500 700,485 1000,490C1200,495 1350,505 1438,512M135,1272C400,1280 800,1270 1000,1280C1150,1295 1300,1300 1392,1298M140,1285L137,1440C250,1440 300,1445 400,1450C600,1490 800,1490 1000,1510L1390,1507L1400,1500L1395,1360"/>
<text class="w" x="228" y="700" font-size="110" textLength="342" lengthAdjust="spacingAndGlyphs">Contact Me</text>
<path class="k" d="M230,770L568,760M225,807L568,807M265,868L265,908M275,868L275,908M288,868L288,908M303,880L322,880M337,880L337,910M352,875L352,910M365,875L365,912M385,895L418,895M428,875L428,908M445,880L445,908M460,880L460,908M483,870L483,905"/>
<path class="k" d="M800,575C900,585 1100,590 1235,568M1210,588C1260,580 1310,620 1315,680L1285,1175C1200,1200 1100,1215 1000,1210L825,1200Q805,1195 805,1170L780,720L800,578"/>
<text class="w" x="820" y="665" font-size="80" textLength="290" lengthAdjust="spacingAndGlyphs">Get in touch</text>
<path class="k" d="M810,710L1035,715M1015,765C950,760 880,760 845,775C810,800 830,825 880,828C950,828 1020,815 1040,800L1033,770M1052,795C1080,765 1150,762 1218,762M1052,797C1090,830 1200,825 1265,795L1255,785M1250,832C1100,825 950,830 860,855C820,885 860,905 1000,908C1150,910 1290,905 1290,870C1285,850 1265,845 1250,848M1288,933C1150,925 950,925 860,938C840,950 860,990 880,1015C1000,1010 1150,1005 1270,1005L1290,990L1293,950M855,1040L843,1122C950,1125 1150,1125 1265,1115L1260,1060L1245,1050C1150,1050 1000,1035 880,1040M878,1145C1000,1140 1150,1145 1210,1140Q1225,1150 1210,1165C1100,1175 950,1165 850,1167"/>
</g>
<g id="contact-2" transform="translate(1420,840) scale(.357,.3333)">
<path class="k" d="M118,40C400,38 650,38 780,55C950,75 1200,85 1380,85L1450,85L1445,600L1452,918M115,45L112,640L118,920M118,930C200,915 600,925 800,920C1100,925 1300,930 1415,928L1452,918M110,138C350,145 600,135 800,140C950,155 1300,160 1462,168"/>
<path class="k" d="M122,213L240,213L340,232Q358,240 357,260L352,615L345,620C300,605 240,615 190,615M125,245C150,300 280,430 340,553M358,210L345,212C300,350 200,540 115,632"/>
<text class="w" x="538" y="355" font-size="110" textLength="417" lengthAdjust="spacingAndGlyphs">Get in touch</text>
<path class="k" d="M567,410C650,405 800,400 910,408M607,440C700,435 800,435 913,450M553,476L707,481M773,483L873,488M600,508L735,512M800,516L835,520M575,552L803,556M540,618C650,600 800,590 945,597L958,587L968,770L800,768C650,765 550,768 490,780L477,630M668,825L800,810L805,880L665,875L653,822M823,845L885,847M860,833L885,847L865,857"/>
<path class="k" d="M1185,435L1185,600L1172,825M1185,435C1250,432 1350,440 1423,440M1193,460C1220,540 1350,680 1410,780M1415,458C1380,560 1250,680 1175,828"/>
</g>
</svg>
